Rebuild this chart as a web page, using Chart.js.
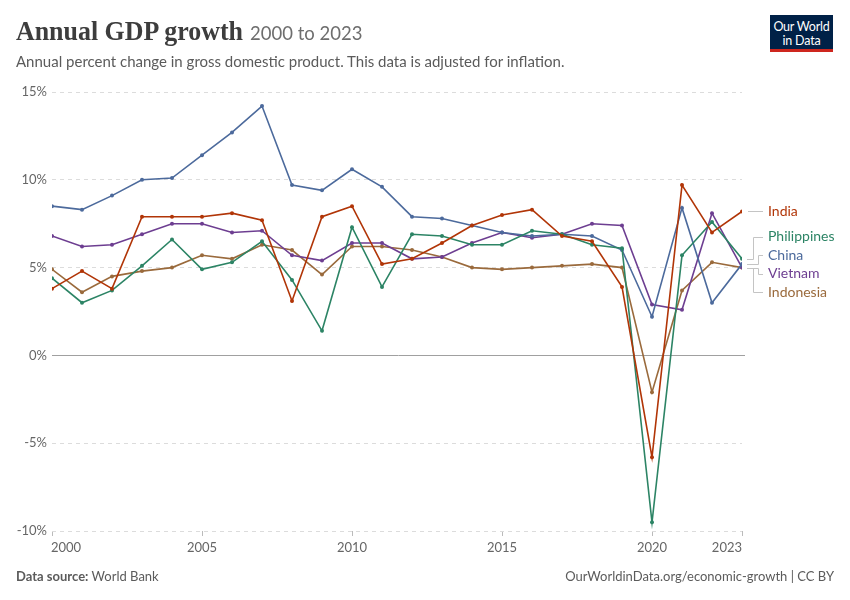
<!DOCTYPE html>
<html>
<head>
<meta charset="utf-8">
<script src="https://cdn.jsdelivr.net/npm/chart.js@4.4.0/dist/chart.umd.min.js"></script>
<style>
  html, body { margin: 0; padding: 0; background: #fff; }
  body { width: 850px; height: 600px; position: relative; overflow: hidden; font-family: Lato, "Noto Sans", sans-serif; }
  #wrap { position: absolute; left: 0; top: 0; width: 850px; height: 600px; }
  .abs { position: absolute; white-space: nowrap; }
  #title { left: 16px; top: 15px; font-family: "Liberation Serif", "DejaVu Serif", serif; font-weight: 700; font-size: 27px; color: #3d3d3d; line-height: 32px; transform-origin: 0 50%; display: inline-block; }
  #years { left: 250px; top: 21px; font-size: 18.5px; color: #6e6e6e; line-height: 24px; }
  #subtitle { left: 16px; top: 51px; font-size: 15px; color: #5b5b5b; line-height: 20px; }
  #logo { left: 770px; top: 15px; width: 63px; background: #002147; border-bottom: 3px solid #ce261e; color: #fff; font-size: 12.5px; line-height: 13.5px; text-align: center; padding-top: 5px; height: 29px; letter-spacing: -0.2px; }
  #src { left: 16px; top: 568px; font-size: 13px; color: #5b5b5b; }
  #src b { font-weight: 700; }
  #cred { right: 16px; top: 568px; font-size: 13px; color: #5b5b5b; }
</style>
</head>
<body>
<div id="wrap"><canvas id="c" width="850" height="600"></canvas></div>
<div id="title" class="abs">Annual GDP growth</div>
<div id="years" class="abs">2000 to 2023</div>
<div id="subtitle" class="abs">Annual percent change in gross domestic product. This data is adjusted for inflation.</div>
<div id="logo" class="abs">Our World<br>in Data</div>
<div id="src" class="abs"><b>Data source:</b> World Bank</div>
<div id="cred" class="abs">OurWorldinData.org/economic-growth | CC BY</div>
<script>
const years = [2000,2001,2002,2003,2004,2005,2006,2007,2008,2009,2010,2011,2012,2013,2014,2015,2016,2017,2018,2019,2020,2021,2022,2023];
const china       = [8.5,8.3,9.1,10.0,10.1,11.4,12.7,14.2,9.7,9.4,10.6,9.6,7.9,7.8,7.4,7.0,6.8,6.9,6.8,6.0,2.2,8.4,3.0,5.2];
const india       = [3.8,4.8,3.8,7.9,7.9,7.9,8.1,7.7,3.1,7.9,8.5,5.2,5.5,6.4,7.4,8.0,8.3,6.8,6.5,3.9,-5.8,9.7,7.0,8.2];
const philippines = [4.4,3.0,3.7,5.1,6.6,4.9,5.3,6.5,4.3,1.4,7.3,3.9,6.9,6.8,6.3,6.3,7.1,6.9,6.3,6.1,-9.5,5.7,7.6,5.5];
const vietnam     = [6.8,6.2,6.3,6.9,7.5,7.5,7.0,7.1,5.7,5.4,6.4,6.4,5.5,5.6,6.4,7.0,6.7,6.9,7.5,7.4,2.9,2.6,8.1,5.0];
const indonesia   = [4.9,3.6,4.5,4.8,5.0,5.7,5.5,6.3,6.0,4.6,6.2,6.2,6.0,5.6,5.0,4.9,5.0,5.1,5.2,5.0,-2.1,3.7,5.3,5.0];
const xTicks = [2000,2005,2010,2015,2020,2023];
const yTicks = [-10,-5,0,5,10,15];
const seriesNames = ["India","Philippines","China","Vietnam","Indonesia"];
const seriesValues = [india, philippines, china, vietnam, indonesia];
const seriesColors = ["#B13507","#2C8465","#4C6A9C","#6D3E91","#9A6A3C"];

// fit title to reference width
(function () {
  const t = document.getElementById('title');
  const w = t.getBoundingClientRect().width;
  if (w > 0) t.style.transform = 'scaleX(' + (227 / w) + ')';
})();

const datasets = seriesNames.map((n, k) => ({
  label: n,
  data: years.map((y, i) => ({x: y, y: seriesValues[k][i]})),
  borderColor: seriesColors[k],
  backgroundColor: seriesColors[k],
  borderWidth: 1.6,
  pointRadius: 2,
  pointBorderWidth: 0,
  pointHoverRadius: 2,
  tension: 0
}));

const overlay = {
  id: 'overlay',
  beforeDatasetsDraw(chart) {
    const {ctx, chartArea, scales: {x, y}} = chart;
    const y0 = y.getPixelForValue(0);
    ctx.save();
    ctx.strokeStyle = '#a0a0a0';
    ctx.lineWidth = 1;
    ctx.beginPath();
    ctx.moveTo(chartArea.left, Math.round(y0) + 0.5);
    ctx.lineTo(chartArea.right + 3, Math.round(y0) + 0.5);
    ctx.stroke();
    ctx.restore();
  },
  afterDraw(chart) {
    const {ctx, chartArea, scales: {x, y}} = chart;
    ctx.save();
    ctx.font = '13px Lato, sans-serif';
    ctx.fillStyle = '#666';
    ctx.textBaseline = 'middle';
    xTicks.forEach((v, i) => {
      const px = x.getPixelForValue(v);
      ctx.textAlign = i === 0 ? 'left' : (i === xTicks.length - 1 ? 'right' : 'center');
      ctx.fillText(String(v), i === 0 ? px - 1 : px, chartArea.bottom + 17);
    });
    const last = years.length - 1;
    const endX = x.getPixelForValue(years[last]);
    const labelX = endX + 26;
    const ends = seriesValues.map(s => y.getPixelForValue(s[last]));
    const labelY = [];
    labelY[0] = ends[0];
    const others = [1,2,3,4];
    const mean = others.reduce((a, k) => a + ends[k], 0) / others.length;
    const gap = 18.5;
    others.forEach((k, j) => { labelY[k] = mean + (j - 1.5) * gap; });
    const bends = [0, endX + 11, endX + 16, endX + 16, endX + 11];
    ctx.strokeStyle = '#c4c4c4';
    ctx.lineWidth = 1;
    seriesNames.forEach((n, k) => {
      ctx.beginPath();
      if (k === 0) {
        ctx.moveTo(endX + 6, Math.round(ends[k]) + 0.5);
        ctx.lineTo(labelX - 5, Math.round(ends[k]) + 0.5);
      } else {
        const bx = Math.round(bends[k]) + 0.5;
        ctx.moveTo(endX + 5, Math.round(ends[k]) + 0.5);
        ctx.lineTo(bx, Math.round(ends[k]) + 0.5);
        ctx.lineTo(bx, Math.round(labelY[k]) + 0.5);
        ctx.lineTo(labelX - 5, Math.round(labelY[k]) + 0.5);
      }
      ctx.stroke();
    });
    ctx.font = '14px Lato, sans-serif';
    ctx.textAlign = 'left';
    ctx.textBaseline = 'middle';
    seriesNames.forEach((n, k) => {
      ctx.fillStyle = seriesColors[k];
      ctx.fillText(n, labelX, labelY[k]);
    });
    ctx.restore();
  }
};

new Chart(document.getElementById('c'), {
  type: 'line',
  data: { datasets },
  options: {
    responsive: false,
    animation: false,
    events: [],
    layout: { padding: { top: 92, left: 0, right: 108, bottom: 41 } },
    plugins: { legend: { display: false }, tooltip: { enabled: false } },
    scales: {
      x: {
        type: 'linear',
        min: 2000, max: 2023,
        afterBuildTicks: s => { s.ticks = xTicks.map(v => ({value: v})); },
        afterFit: s => { s.height = 28; },
        ticks: { display: false },
        grid: { drawOnChartArea: false, drawTicks: true, tickLength: 5, tickColor: '#bbb', offset: false },
        border: { display: false }
      },
      y: {
        min: -10, max: 15,
        afterBuildTicks: s => { s.ticks = yTicks.map(v => ({value: v})); },
        afterFit: s => { s.width = 52; },
        ticks: { callback: v => v + '%', font: { family: 'Lato', size: 13 }, color: '#666', padding: 5 },
        grid: { drawTicks: false, color: c => (c.tick && c.tick.value === 0) ? 'rgba(0,0,0,0)' : '#dcdcdc', lineWidth: 1 },
        border: { display: false, dash: [4, 4] }
      }
    }
  },
  plugins: [overlay]
});
</script>
</body>
</html>
